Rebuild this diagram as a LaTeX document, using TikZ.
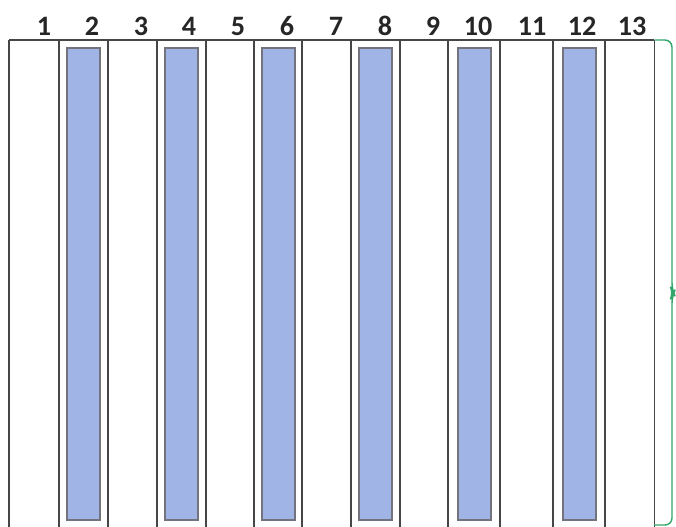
\documentclass[tikz,border=0pt]{standalone}
\usepackage{fontspec}
\setmainfont{Carlito}
\usetikzlibrary{positioning,calc}
\definecolor{barblue}{RGB}{160,180,230}
\definecolor{bargray}{RGB}{115,115,125}
\definecolor{linegray}{RGB}{70,70,70}
\definecolor{bracegreen}{RGB}{50,165,105}

\begin{document}
\begin{tikzpicture}[
  x=0.03cm,y=-0.03cm,
  font=\fontsize{24}{26}\selectfont\bfseries,
  col/.style={draw=none,minimum height=487*0.03cm,inner sep=0pt,anchor=north west},
  bar/.style={draw=bargray,line width=1.5pt,fill=barblue,inner sep=0pt,minimum width=33*0.03cm,minimum height=472*0.03cm,anchor=north},
  lab/.style={inner sep=0pt,anchor=base,text=black!85},
  sep/.style={draw=linegray,line width=1.1pt}
]
\useasboundingbox (0,0) rectangle (676,526);
% columns
\foreach \i/\xl/\xr/\lx in {1/9/59/44,2/59/108/92,3/108/157/141,4/157/206/189,5/206/254/238,6/254/302/287,7/302/351/336,8/351/400/385,9/400/448/433,10/448/500/478,11/500/553/532,12/553/605/582,13/605/654/632}{
  \node[col,minimum width={(\xr-\xl)*0.03cm}] (col\i) at (\xl,40) {};
  \node[lab] (lab\i) at (\lx,35) {\i};
}
% blue bars in the even columns
\foreach \i in {2,4,...,12}{
  \node[bar] (bar\i) at ($(col\i.north)+(0,7)$) {};
}
% outline
\draw[sep] (col1.north west) -- (col13.north east);
\foreach \i in {1,...,13}{
  \draw[sep] (col\i.north west) -- (col\i.south west);
}
\draw[sep] (col13.north east) -- (col13.south east);
% brace on the right
\coordinate (bt) at (672,40);
\coordinate (bm) at (672,293);
\coordinate (bb) at (672,525);
\draw[bracegreen,line width=1.2pt,rounded corners=6] (col13.north east) -- (bt) -- ($(bm)+(0,-3)$) -- ($(bm)+(1.5,0)$) -- ($(bm)+(0,3)$) -- (bb) -- (654,525);
\end{tikzpicture}
\end{document}
